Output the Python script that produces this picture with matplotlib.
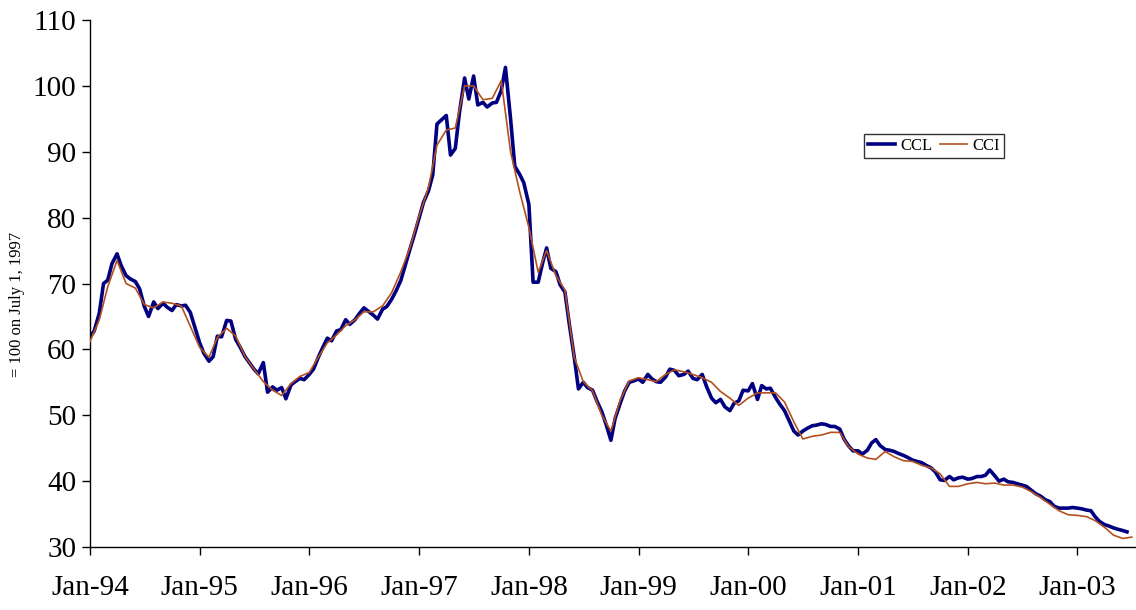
import matplotlib
matplotlib.use("Agg")
import matplotlib.pyplot as plt
import matplotlib.dates as mdates
import pandas as pd

# CCI: monthly values, Jan 1994 .. Jul 2003
cci_values = [
    61.2, 64.5, 69.5, 73.5, 70.0, 69.3, 66.8, 66.3, 67.2, 67.0, 66.6, 63.5,   # 1994
    60.3, 58.8, 61.8, 63.2, 62.0, 58.9, 57.0, 55.1, 53.8, 53.0, 54.8, 55.9,   # 1995
    56.5, 58.9, 61.0, 62.2, 63.6, 64.5, 65.7, 65.7, 66.6, 68.6, 71.8, 75.4,   # 1996
    80.3, 84.6, 91.0, 93.3, 93.6, 100.0, 100.0, 97.9, 98.1, 100.8, 90.0, 84.0,  # 1997
    78.5, 71.7, 75.0, 71.2, 69.0, 58.8, 55.1, 53.7, 50.0, 47.6, 52.3, 55.2,   # 1998
    55.7, 55.4, 55.1, 56.2, 56.9, 56.6, 56.2, 55.7, 55.0, 53.6, 52.6, 51.5,   # 1999
    52.6, 53.4, 53.4, 53.4, 52.0, 49.0, 46.4, 46.8, 47.0, 47.4, 47.4, 45.2,   # 2000
    44.1, 43.5, 43.3, 44.5, 43.7, 43.1, 43.0, 42.4, 42.0, 41.1, 39.2, 39.2,   # 2001
    39.6, 39.8, 39.6, 39.7, 39.4, 39.4, 39.1, 38.4, 37.5, 36.5, 35.5, 34.9,   # 2002
    34.8, 34.6, 34.0, 33.0, 31.8, 31.3, 31.5,                                 # 2003
]
cci_dates = pd.date_range("1994-01-01", periods=len(cci_values), freq="MS")

# CCL: semi-monthly readings (1st and 15th), Jan 1994 .. Jun 2003
ccl_values = [
    61.9, 62.8, 65.5, 70.0, 70.5, 73.0, 74.5, 72.7, 71.2, 70.7, 70.3, 69.2,
    66.5, 65.0, 67.2, 66.2, 67.0, 66.4, 65.9, 66.8, 66.6, 66.7, 65.6, 63.5,
    61.0, 59.4, 58.2, 58.9, 62.0, 61.9, 64.4, 64.3, 61.5, 60.4, 58.9, 58.0,
    57.0, 56.3, 58.0, 53.5, 54.3, 53.8, 54.2, 52.5, 54.6, 55.1, 55.6, 55.4,
    56.2, 57.0, 58.9, 60.3, 61.7, 61.3, 62.8, 63.0, 64.5, 63.8, 64.5, 65.4,
    66.3, 65.8, 65.2, 64.6, 66.1, 66.5, 67.6, 68.8, 70.5, 72.7, 75.2, 77.3,
    80.0, 82.3, 84.1, 86.5, 94.2, 94.8, 95.5, 89.5, 90.5, 96.0, 101.2, 98.0,
    101.5, 97.1, 97.5, 96.8, 97.4, 97.5, 99.3, 102.8, 95.0, 87.8, 86.6, 85.3,
    82.0, 70.2, 70.2, 73.0, 75.4, 72.3, 71.8, 69.8, 68.7, 64.0, 58.8, 54.0,
    55.0, 54.2, 53.8, 52.2, 50.5, 48.6, 46.2, 49.5, 51.8, 53.6, 55.0, 55.2,
    55.5, 55.0, 56.2, 55.5, 55.1, 55.0, 55.8, 57.0, 56.8, 56.0, 56.2, 56.7,
    55.6, 55.4, 56.2, 54.4, 52.6, 51.9, 52.4, 51.3, 50.7, 51.8, 52.2, 53.8,
    53.7, 54.8, 52.4, 54.5, 54.0, 54.1, 52.7, 51.7, 50.7, 49.3, 47.6, 47.0,
    47.6, 48.0, 48.4, 48.5, 48.7, 48.6, 48.3, 48.3, 47.9, 46.4, 45.3, 44.6,
    44.6, 44.1, 44.7, 45.8, 46.3, 45.4, 44.8, 44.7, 44.5, 44.2, 43.9, 43.6,
    43.2, 43.0, 42.8, 42.4, 42.0, 41.4, 40.2, 40.1, 40.7, 40.2, 40.5, 40.6,
    40.3, 40.4, 40.7, 40.7, 40.9, 41.7, 40.8, 40.0, 40.3, 39.9, 39.8, 39.6,
    39.4, 39.2, 38.6, 38.1, 37.7, 37.2, 36.9, 36.2, 35.9, 35.9, 35.9, 36.0,
    35.9, 35.8, 35.6, 35.5, 34.6, 33.9, 33.4, 33.2, 32.9, 32.7, 32.5, 32.3,
]
ccl_dates = pd.date_range("1994-01-01", periods=len(ccl_values), freq="SMS")

year_ticks = pd.date_range("1994-01-01", "2003-01-01", freq="YS")
y_ticks = [30, 40, 50, 60, 70, 80, 90, 100, 110]

plt.rcParams['font.family'] = ['Liberation Serif', 'DejaVu Serif']

fig = plt.figure(figsize=(11.36, 6.10), dpi=100)
ax = fig.add_axes([90 / 1136, 1 - 547 / 610, 1 - 90 / 1136, (547 - 20) / 610])

ax.plot(ccl_dates, ccl_values, color="#000080", lw=2.6, label="CCL", zorder=2)
ax.plot(cci_dates, cci_values, color="#B4501E", lw=1.2, label="CCI", zorder=3)

ax.set_ylim(30, 110)
ax.set_yticks(y_ticks)
ax.set_xlim(pd.Timestamp("1994-01-01"), pd.Timestamp("2003-07-15"))
ax.set_xticks(year_ticks)
ax.xaxis.set_major_formatter(mdates.DateFormatter("%b-%y"))

for s in ("top", "right"):
    ax.spines[s].set_visible(False)
for s in ("left", "bottom"):
    ax.spines[s].set_linewidth(1.0)
    ax.spines[s].set_color("black")

ax.tick_params(axis="both", direction="out", length=6, width=1.0, labelsize=21)
ax.tick_params(axis="x", pad=14)
ax.tick_params(axis="y", pad=4)

ax.set_ylabel("= 100 on July 1, 1997", fontsize=12)
ax.yaxis.set_label_coords(-0.062, 0.46)

leg = ax.legend(loc="center", bbox_to_anchor=(934 / 1136, 1 - 146 / 610),
                bbox_transform=fig.transFigure, ncol=2, fontsize=12,
                frameon=True, fancybox=False, shadow=False,
                handlelength=1.6, handletextpad=0.3, columnspacing=0.5,
                borderpad=0.25, borderaxespad=0)
leg.get_frame().set_edgecolor("black")
leg.get_frame().set_linewidth(1.0)

fig.savefig("out.png", dpi=100)
